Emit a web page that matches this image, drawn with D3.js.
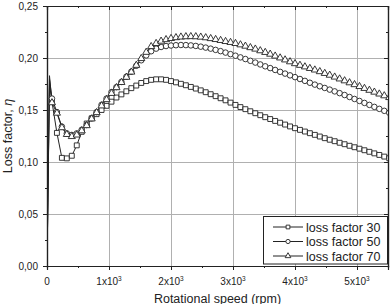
<!DOCTYPE html>
<html><head><meta charset="utf-8">
<script src="https://cdn.jsdelivr.net/npm/d3@7"></script>
<style>
html,body{margin:0;padding:0;background:#fff;}
svg{display:block;font-family:"Liberation Sans",Arial,sans-serif;}
</style></head>
<body><svg id="chart" width="391" height="304"></svg>
<script>
const rpm = [0,40,80,160,240,320,400,480,560,640,720,800,880,960,1040,1120,1200,1280,1360,1440,1520,1600,1680,1760,1840,1920,2000,2080,2160,2240,2320,2400,2480,2560,2640,2720,2800,2880,2960,3040,3120,3200,3280,3360,3440,3520,3600,3680,3760,3840,3920,4000,4080,4160,4240,4320,4400,4480,4560,4640,4720,4800,4880,4960,5040,5120,5200,5280,5360,5440,5520];
const loss30 = [0,0.175,0.158,0.128,0.104,0.1035,0.106,0.116,0.129,0.137,0.142,0.146,0.150,0.154,0.158,0.162,0.165,0.168,0.171,0.1735,0.176,0.1778,0.179,0.1795,0.1795,0.179,0.1778,0.1766,0.1752,0.1738,0.1722,0.1706,0.1689,0.1671,0.1652,0.1633,0.1613,0.1593,0.1571,0.1549,0.1528,0.1508,0.1488,0.1469,0.1450,0.1431,0.1413,0.1395,0.1378,0.1360,0.1342,0.1325,0.1309,0.1293,0.1277,0.1261,0.1245,0.1229,0.1214,0.1200,0.1185,0.1171,0.1156,0.1142,0.1128,0.1113,0.1098,0.1083,0.1068,0.1052,0.1036];
const loss50 = [0,0.180,0.161,0.148,0.134,0.1275,0.126,0.1275,0.131,0.1356,0.142,0.148,0.155,0.161,0.1672,0.172,0.177,0.182,0.1868,0.1925,0.1978,0.2025,0.2065,0.2090,0.2106,0.2115,0.2120,0.2123,0.2125,0.2124,0.2121,0.2116,0.2109,0.2100,0.2090,0.2078,0.2066,0.2052,0.2037,0.2022,0.2006,0.1990,0.1973,0.1956,0.1938,0.1920,0.1903,0.1885,0.1867,0.1850,0.1833,0.1816,0.1798,0.1780,0.1762,0.1744,0.1728,0.1712,0.1696,0.1679,0.1662,0.1644,0.1625,0.1606,0.1587,0.1568,0.1549,0.1530,0.1511,0.1492,0.1473];
const loss70 = [0,0.183,0.157,0.147,0.133,0.1265,0.1245,0.126,0.130,0.135,0.1415,0.1475,0.154,0.160,0.166,0.1715,0.1765,0.1815,0.1865,0.193,0.1995,0.2055,0.2110,0.2140,0.2162,0.2177,0.2188,0.2196,0.2202,0.2205,0.2206,0.2205,0.2201,0.2195,0.2187,0.2178,0.2169,0.2159,0.2150,0.2140,0.2127,0.2114,0.2100,0.2086,0.2070,0.2054,0.2037,0.2019,0.2001,0.1982,0.1964,0.1946,0.1930,0.1915,0.1900,0.1885,0.1869,0.1852,0.1835,0.1817,0.1799,0.1781,0.1762,0.1744,0.1726,0.1708,0.1690,0.1672,0.1654,0.1637,0.1620];
const seriesNames = ["loss factor 30","loss factor 50","loss factor 70"];
const xTicks = [0,1000,2000,3000,4000,5000];
const yTicks = [0,0.05,0.10,0.15,0.20,0.25];
const yTickLabels = ["0,00","0,05","0,10","0,15","0,20","0,25"];

const svg = d3.select("#chart");
const L = 47, R = 388, T = 6, B = 266;
const x = d3.scaleLinear().domain([0,5500]).range([L,R]);
const y = d3.scaleLinear().domain([0,0.25]).range([B,T]);
const ink = "#222", gridC = "#b0b0b0";

// grid
svg.append("g").selectAll("line").data(xTicks.slice(1)).join("line")
  .attr("x1",d=>x(d)).attr("x2",d=>x(d)).attr("y1",T).attr("y2",B)
  .attr("stroke",gridC).attr("stroke-width",1).attr("shape-rendering","crispEdges");
svg.append("g").selectAll("line").data(yTicks.slice(1,-1)).join("line")
  .attr("y1",d=>y(d)).attr("y2",d=>y(d)).attr("x1",L).attr("x2",R)
  .attr("stroke",gridC).attr("stroke-width",1).attr("shape-rendering","crispEdges");

// axes
const xMinor = d3.range(0,5501,500), yMinor = d3.range(0,0.2501,0.025);
const axB = d3.axisBottom(x).tickValues(xTicks).tickSize(4).tickFormat("");
const axBm = d3.axisBottom(x).tickValues(xMinor).tickSize(2).tickFormat("");
const axL = d3.axisLeft(y).tickValues(yTicks).tickSize(4).tickFormat("");
const axLm = d3.axisLeft(y).tickValues(yMinor).tickSize(2).tickFormat("");
const axT = d3.axisTop(x).tickValues(xTicks).tickSize(-4).tickFormat("");
const axTm = d3.axisTop(x).tickValues(xMinor).tickSize(-2).tickFormat("");
const axR = d3.axisRight(y).tickValues(yTicks).tickSize(-4).tickFormat("");
const axRm = d3.axisRight(y).tickValues(yMinor).tickSize(-2).tickFormat("");
function st(g){ g.selectAll("path,line").attr("stroke",ink); g.select(".domain").attr("stroke-width",1.2); }
svg.append("g").attr("transform",`translate(0,${B})`).call(axB).call(st);
svg.append("g").attr("transform",`translate(0,${B})`).call(axBm).call(st);
svg.append("g").attr("transform",`translate(${L},0)`).call(axL).call(st);
svg.append("g").attr("transform",`translate(${L},0)`).call(axLm).call(st);
svg.append("g").attr("transform",`translate(0,${T})`).call(axT).call(st);
svg.append("g").attr("transform",`translate(0,${T})`).call(axTm).call(st);
svg.append("g").attr("transform",`translate(${R},0)`).call(axR).call(st);
svg.append("g").attr("transform",`translate(${R},0)`).call(axRm).call(st);

// tick labels
svg.append("g").selectAll("text").data(yTicks).join("text")
  .attr("x",L-9).attr("y",d=>y(d)).attr("dy","0.35em").attr("text-anchor","end")
  .attr("font-size",10).attr("fill",ink).text((d,i)=>yTickLabels[i]);
const xl = svg.append("g").selectAll("text").data(xTicks).join("text")
  .attr("x",d=>x(d)).attr("y",285).attr("text-anchor","middle")
  .attr("font-size",10).attr("fill",ink);
xl.each(function(d){
  const t = d3.select(this);
  if(d===0){ t.text("0"); return; }
  t.append("tspan").text((d/1000)+"x10");
  t.append("tspan").attr("font-size",6.5).attr("dy",-4).text("3");
});

// titles
svg.append("text").attr("x",(L+R)/2).attr("y",303).attr("text-anchor","middle")
  .attr("font-size",12.5).attr("fill",ink).text("Rotational speed (rpm)");
const yt = svg.append("text").attr("transform",`translate(11.5,${(T+B)/2}) rotate(-90)`)
  .attr("text-anchor","middle").attr("font-size",12.5).attr("fill",ink);
yt.append("tspan").text("Loss factor, ");
yt.append("tspan").attr("font-style","italic").text("η");

// data
svg.append("clipPath").attr("id","clip").append("rect").attr("x",L).attr("y",T-4).attr("width",R-L).attr("height",B-T+8);
const plot = svg.append("g").attr("clip-path","url(#clip)");
const series = [loss30, loss50, loss70];
const shapes = [d3.symbolSquare, d3.symbolCircle, d3.symbolTriangle];
const sizes = [24, 24, 22];
const line = d3.line().x((d,i)=>x(rpm[i])).y(d=>y(d));
series.forEach((vals,k)=>{
  plot.append("path").datum(vals).attr("d",line).attr("fill","none").attr("stroke",ink).attr("stroke-width",1);
});
series.forEach((vals,k)=>{
  const sym = d3.symbol().type(shapes[k]).size(sizes[k]);
  plot.append("g").selectAll("path").data(vals.map((v,i)=>[rpm[i],v]).filter((d,i)=>i>=2)).join("path")
    .attr("transform",d=>`translate(${x(d[0])},${y(d[1])})`).attr("d",sym)
    .attr("fill","#fff").attr("stroke",ink).attr("stroke-width",0.9);
});

// legend
const lg = svg.append("g");
lg.append("rect").attr("x",263.5).attr("y",216.5).attr("width",124).attr("height",47.5)
  .attr("fill","#fff").attr("stroke",ink).attr("stroke-width",1);
const rowsY = [227,241.5,256];
seriesNames.forEach((n,k)=>{
  lg.append("line").attr("x1",273).attr("x2",303).attr("y1",rowsY[k]).attr("y2",rowsY[k]).attr("stroke",ink).attr("stroke-width",1);
  lg.append("path").attr("transform",`translate(288,${rowsY[k]})`).attr("d",d3.symbol().type(shapes[k]).size(14))
    .attr("fill","#fff").attr("stroke",ink).attr("stroke-width",0.9);
  lg.append("text").attr("x",306).attr("y",rowsY[k]).attr("dy","0.36em").attr("font-size",12.5).attr("fill",ink).text(n);
});
</script></body></html>
